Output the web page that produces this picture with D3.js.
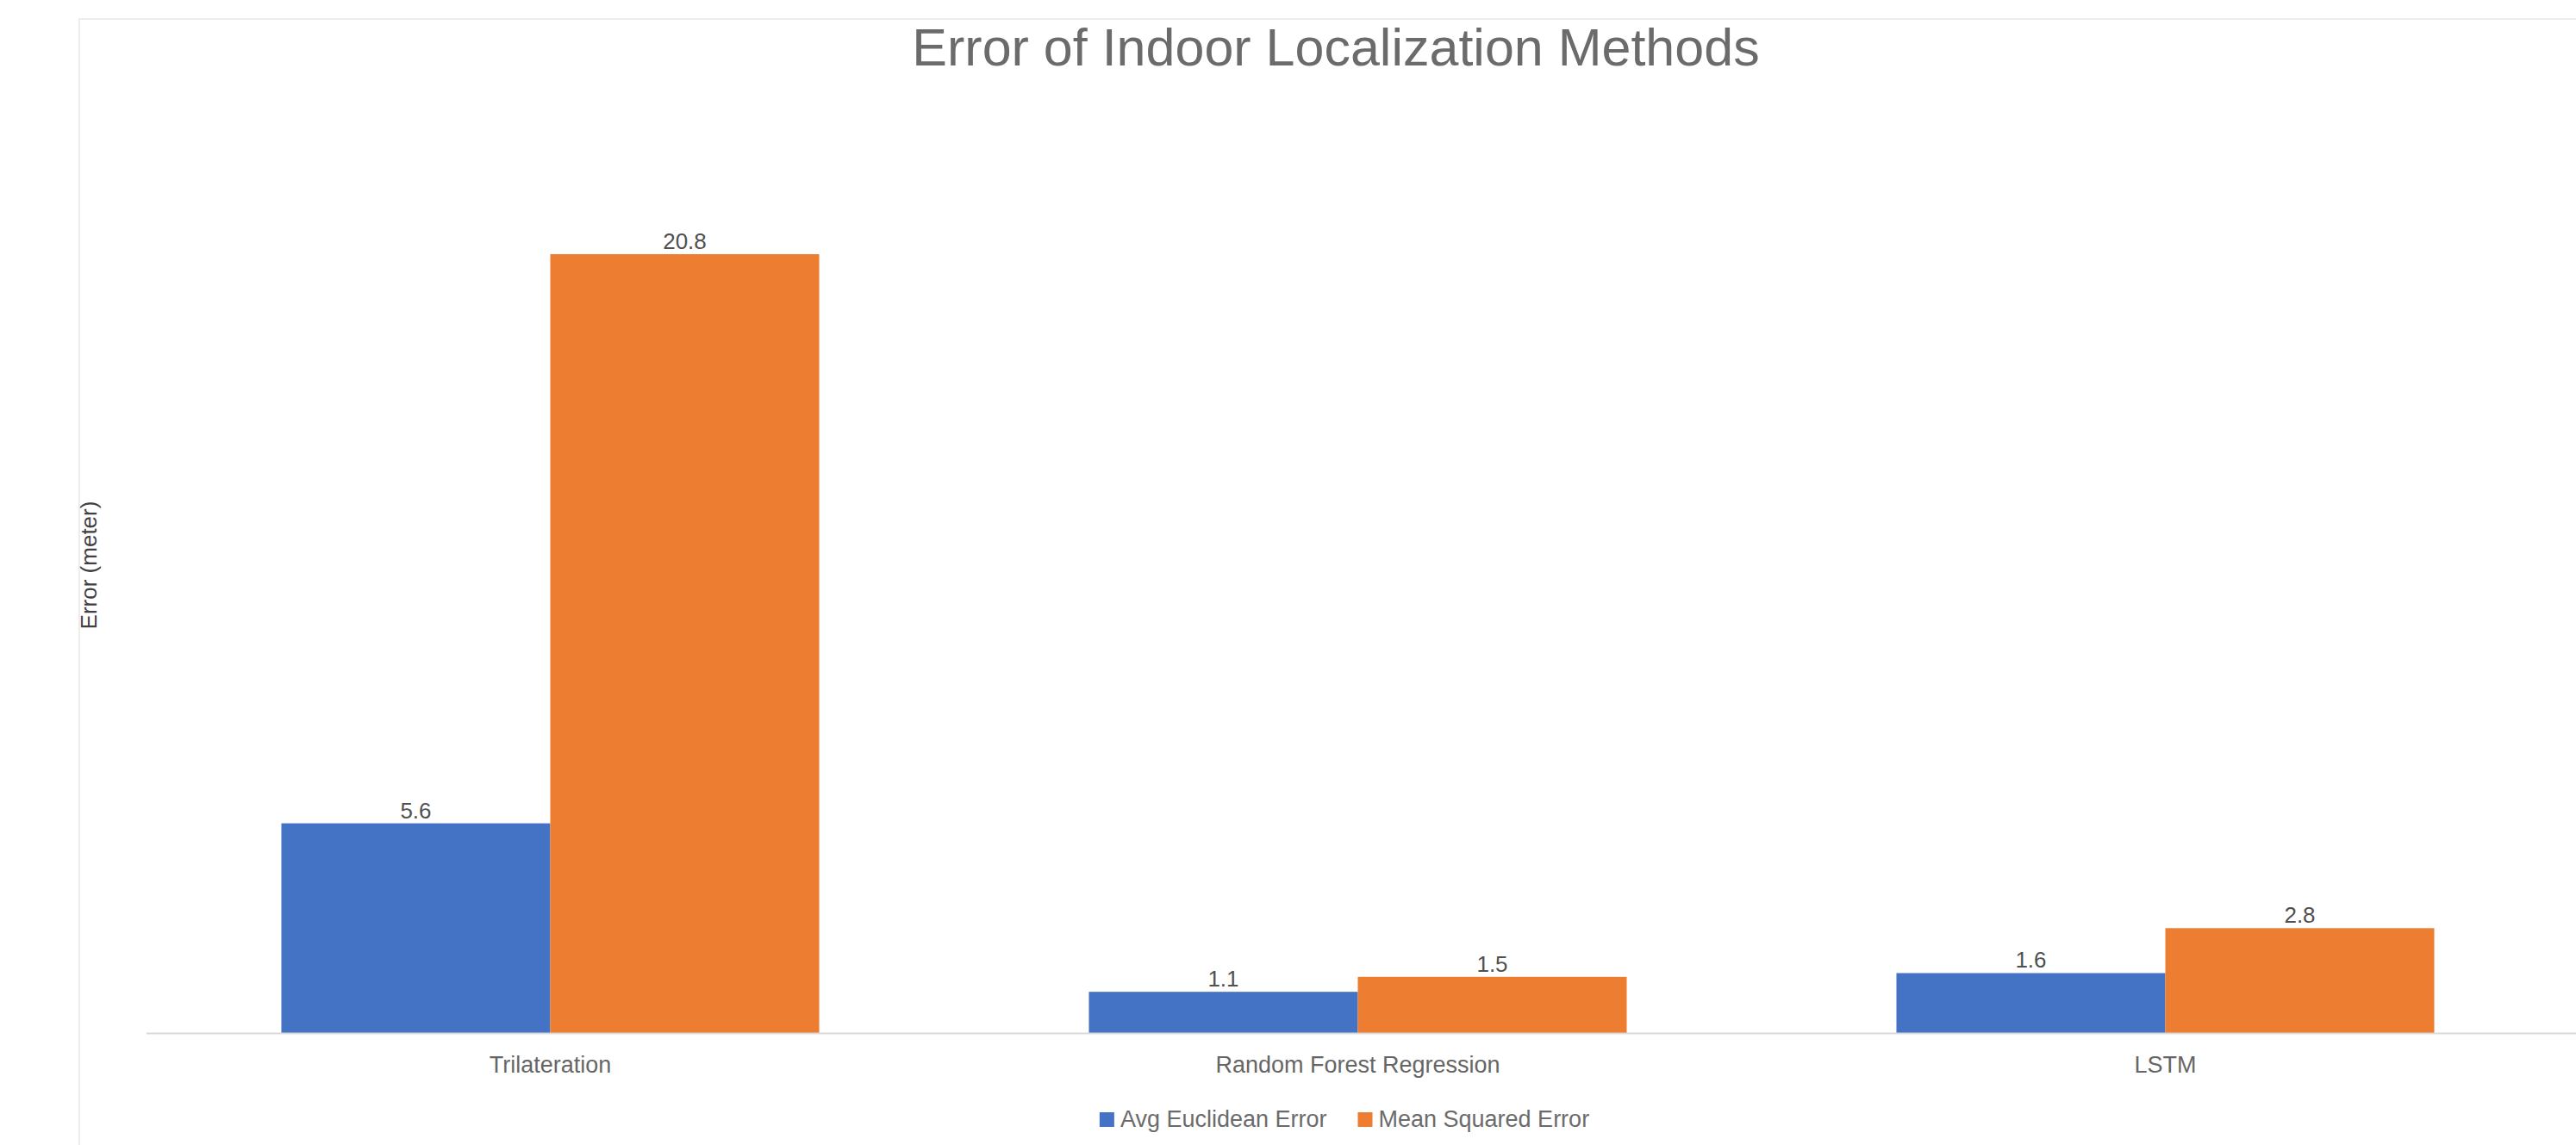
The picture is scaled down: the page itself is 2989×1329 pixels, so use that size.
<!DOCTYPE html>
<html>
<head>
<meta charset="utf-8">
<script src="https://cdn.jsdelivr.net/npm/d3@7"></script>
<style>
  html, body { margin: 0; padding: 0; background: #ffffff; }
  svg { display: block; }
  text { font-family: "Liberation Sans", Arial, sans-serif; }
</style>
</head>
<body>
<svg id="chart" width="2989" height="1329"></svg>
<script>
// ---- data ----
const categories = ["Trilateration", "Random Forest Regression", "LSTM"];
const seriesNames = ["Avg Euclidean Error", "Mean Squared Error"];
const avgEuclidean = [5.6, 1.1, 1.6];
const meanSquared = [20.8, 1.5, 2.8];
const seriesColors = ["#4472C4", "#ED7D31"];
const titleText = "Error of Indoor Localization Methods";
const yTitleText = "Error (meter)";

const seriesValues = [avgEuclidean, meanSquared];

const svg = d3.select("#chart");

// chart area frame (very light)
svg.append("rect")
  .attr("x", 92).attr("y", 22)
  .attr("width", 3000).attr("height", 1400)
  .attr("fill", "#ffffff")
  .attr("stroke", "#ededed").attr("stroke-width", 2);

const x0 = d3.scaleBand()
  .domain(categories)
  .range([170, 2981])
  .paddingInner(0.334)
  .paddingOuter(0.167);

const x1 = d3.scaleBand()
  .domain(seriesNames)
  .range([0, x0.bandwidth()])
  .padding(0);

const y = d3.scaleLinear()
  .domain([0, 22])
  .range([1199, 1199 - 22 * 43.46]);

// title
svg.append("text")
  .attr("x", 1550).attr("y", 76)
  .attr("text-anchor", "middle")
  .attr("font-size", 61)
  .attr("fill", "#6b6b6b")
  .text(titleText);

// y-axis title
svg.append("text")
  .attr("transform", "translate(112,656) rotate(-90)")
  .attr("text-anchor", "middle")
  .attr("font-size", 26)
  .attr("fill", "#404040")
  .text(yTitleText);

// bars
const groups = svg.append("g").selectAll("g")
  .data(categories)
  .join("g")
  .attr("transform", d => `translate(${x0(d)},0)`);

const rows = (c, i) => seriesNames.map((s, k) => ({ series: s, value: seriesValues[k][i], color: seriesColors[k] }));

groups.selectAll("rect")
  .data((c, i) => rows(c, i))
  .join("rect")
  .attr("x", d => x1(d.series))
  .attr("y", d => y(d.value))
  .attr("width", x1.bandwidth())
  .attr("height", d => y(0) - y(d.value))
  .attr("fill", d => d.color);

groups.selectAll("text.val")
  .data((c, i) => rows(c, i))
  .join("text")
  .attr("class", "val")
  .attr("x", d => x1(d.series) + x1.bandwidth() / 2)
  .attr("y", d => y(d.value) - 6)
  .attr("text-anchor", "middle")
  .attr("font-size", 26)
  .attr("fill", "#505050")
  .text(d => d3.format(".1f")(d.value));

// x axis
const xAxis = d3.axisBottom(x0).tickSize(0).tickPadding(0);
const ax = svg.append("g")
  .attr("transform", `translate(0,${y(0)})`)
  .call(xAxis);
ax.select(".domain")
  .attr("d", `M170,0.5H2989`)
  .attr("stroke", "#d9d9d9").attr("stroke-width", 2);
ax.selectAll(".tick text")
  .attr("y", 46)
  .attr("dy", 0)
  .attr("font-size", 27)
  .attr("font-family", "Liberation Sans, Arial, sans-serif")
  .attr("fill", "#666666");

// legend
const legend = svg.append("g");
const items = legend.selectAll("g")
  .data(seriesNames)
  .join("g");
items.append("rect")
  .attr("width", 17).attr("height", 17)
  .attr("y", -17)
  .attr("fill", (d, i) => seriesColors[i]);
items.append("text")
  .attr("x", 24)
  .attr("y", 0)
  .attr("font-size", 27)
  .attr("fill", "#6b6b6b")
  .text(d => d);
let cursor = 0;
items.each(function () {
  d3.select(this).attr("transform", `translate(${cursor},0)`);
  const tw = d3.select(this).select("text").node().getComputedTextLength();
  cursor += 24 + tw + 36;
});
const totalW = cursor - 36;
legend.attr("transform", `translate(${1560 - totalW / 2},1308)`);
</script>
</body>
</html>
